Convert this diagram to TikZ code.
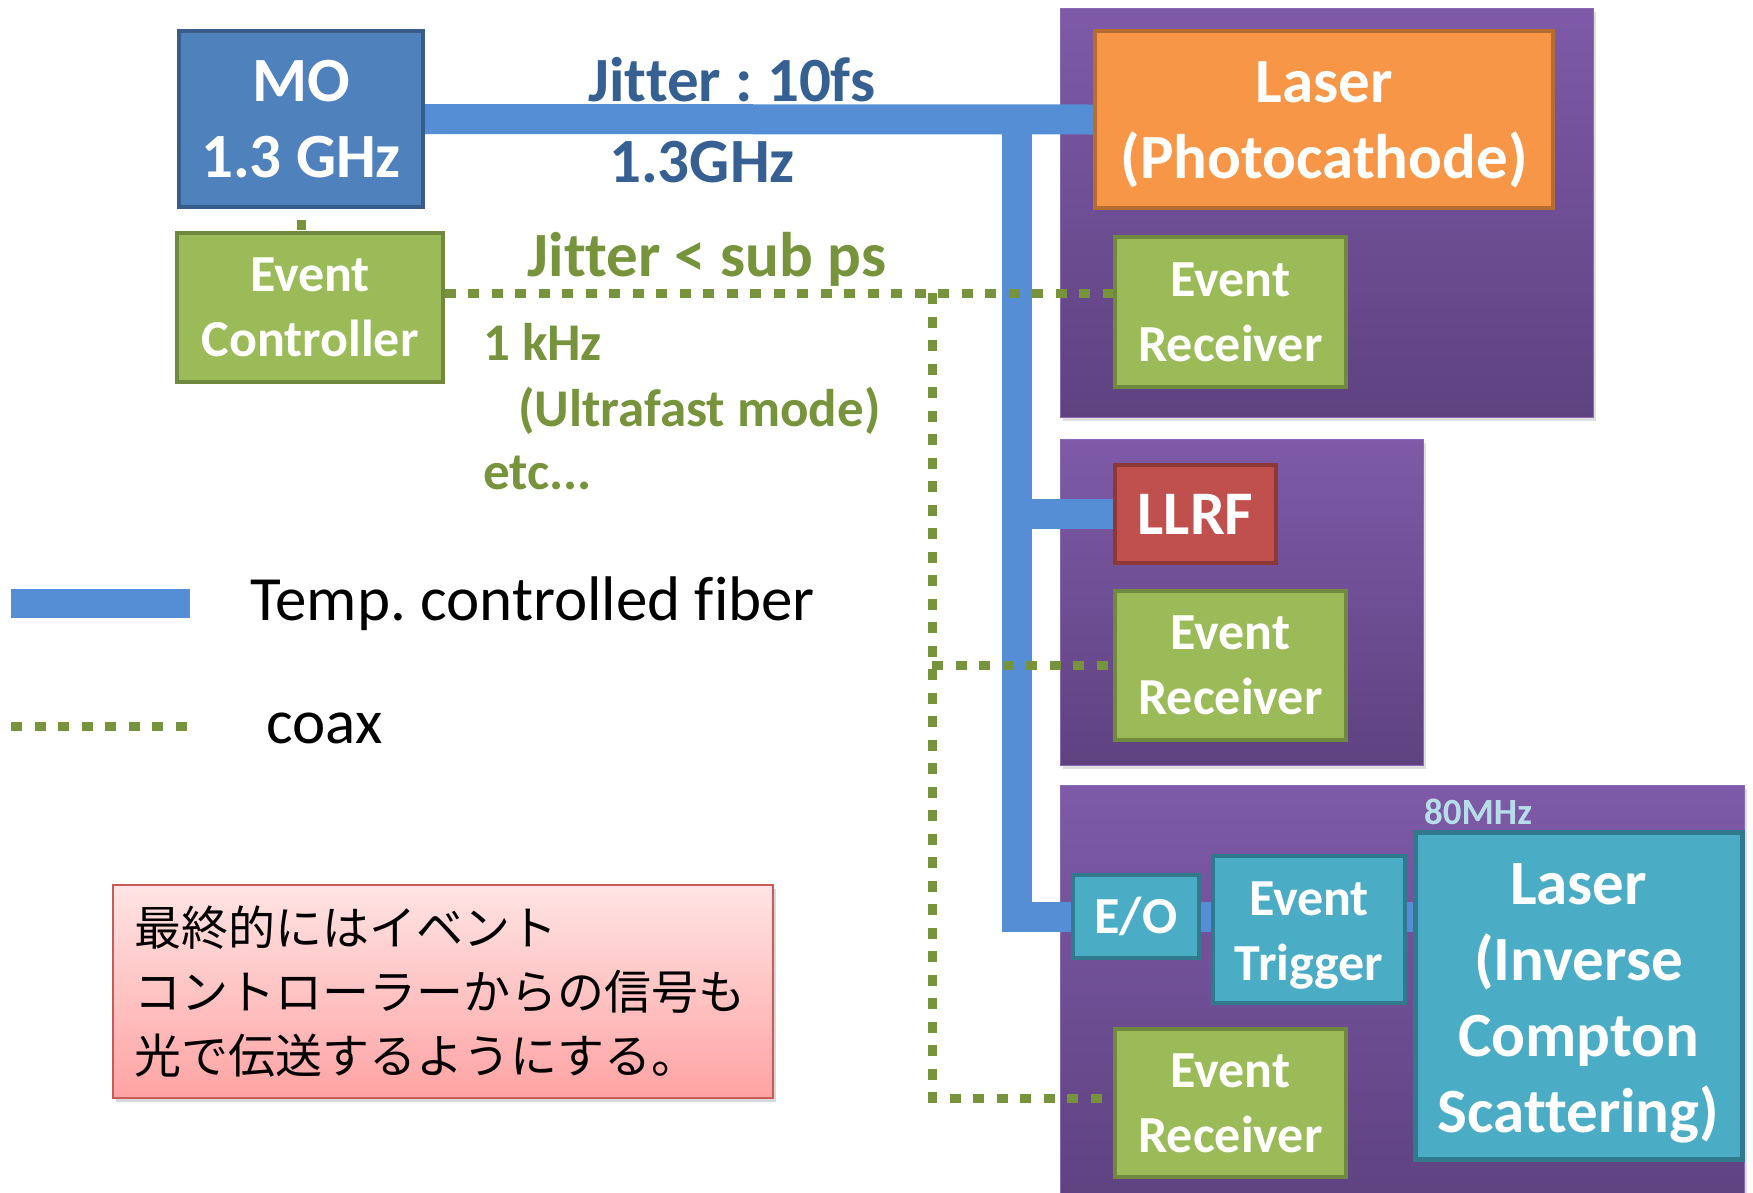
\documentclass[tikz,border=0pt]{standalone}
\usepackage{fontspec}
\setmainfont[Ligatures={NoCommon}]{Carlito}
\newfontfamily\cjkfont{Noto Sans CJK JP}
\usetikzlibrary{shadows}
\frenchspacing
\definecolor{moblue}{HTML}{4F81BD}
\definecolor{moborder}{HTML}{385D8A}
\definecolor{fiberblue}{HTML}{558ED5}
\definecolor{grfill}{HTML}{9BBB59}
\definecolor{grborder}{HTML}{71893F}
\definecolor{coaxgreen}{HTML}{77933C}
\definecolor{ptop}{HTML}{7E5AA8}
\definecolor{pbot}{HTML}{5E4280}
\definecolor{pborder}{HTML}{8A6AB4}
\definecolor{orfill}{HTML}{F79646}
\definecolor{orborder}{HTML}{B66D31}
\definecolor{rdfill}{HTML}{C0504D}
\definecolor{rdborder}{HTML}{8C3836}
\definecolor{aqfill}{HTML}{4BACC6}
\definecolor{aqborder}{HTML}{31798C}
\definecolor{textblue}{HTML}{376092}
\definecolor{lightaq}{HTML}{B7DEE8}
\definecolor{pinktop}{HTML}{FFE4E4}
\definecolor{pinkbot}{HTML}{FFA3A3}
\definecolor{pinkborder}{HTML}{C85A58}
\pgfdeclarelayer{panellayer}
\pgfdeclarelayer{linelayer}
\pgfsetlayers{panellayer,linelayer,main}
\tikzset{
  box/.style={draw, line width=3.5pt, inner sep=0pt, align=center, text=white,
    font=\fontsize{52}{65}\selectfont\bfseries},
  boxtext/.style={inner sep=0pt, align=center, text=white},
  bigtext/.style={font=\fontsize{63}{76}\selectfont\bfseries},
  midtext/.style={font=\fontsize{52}{65}\selectfont\bfseries},
  mobox/.style={box, bigtext, fill=moblue, draw=moborder},
  greenbox/.style={box, fill=grfill, draw=grborder},
  orbox/.style={box, bigtext, fill=orfill, draw=orborder},
  redbox/.style={box, font=\fontsize{62}{76}\selectfont\bfseries, fill=rdfill, draw=rdborder},
  aqbox/.style={box, fill=aqfill, draw=aqborder},
  panel/.style={draw=pborder, line width=1pt, inner sep=0pt, top color=ptop, bottom color=pbot,
    drop shadow={shadow xshift=3pt, shadow yshift=-4pt, opacity=0.25}},
  jpbox/.style={draw=pinkborder, line width=2pt, inner sep=0pt, top color=pinktop, bottom color=pinkbot,
    drop shadow={shadow xshift=3pt, shadow yshift=-4pt, opacity=0.3}},
  fiber/.style={draw=fiberblue, line width=30pt},
  coax/.style={draw=coaxgreen, line width=9pt, dash pattern=on 11pt off 12.5pt},
  bluelabel/.style={text=textblue, font=\fontsize{63}{76}\selectfont\bfseries, inner sep=0pt},
  greenlabel/.style={text=coaxgreen, font=\fontsize{53}{65}\selectfont\bfseries, inner sep=0pt},
  legendtext/.style={text=black, font=\fontsize{63}{76}\selectfont, inner sep=0pt}
}
\begin{document}
\begin{tikzpicture}[x=1pt,y=-1pt]
\useasboundingbox (0,0) rectangle (1753,1192);
\begin{pgfonlayer}{panellayer}
\fill[white] (0,0) rectangle (1753,1192);
\node[panel, minimum width=533, minimum height=409] (P1) at (1326.5,212.5) {};
\node[panel, minimum width=363, minimum height=326] (P2) at (1241.5,602) {};
\node[panel, minimum width=684, minimum height=415] (P3) at (1402,992.5) {};
\end{pgfonlayer}

% boxes
\node[mobox, minimum width=244, minimum height=176] (MO) at (301,119) {MO\\1.3 GHz};
\node[greenbox, minimum width=266, minimum height=149] (EC) at (310,307.5) {Event\\Controller};
\node[orbox, minimum width=458, minimum height=177] (LPC) at (1324,119.5) {};
\node[boxtext, bigtext] (LPCtext) at ([yshift=-5pt]LPC.center) {Laser\\(Photocathode)};
\node[greenbox, minimum width=231, minimum height=150] (ER1) at (1230.5,312) {Event\\Receiver};
\node[redbox, minimum width=161, minimum height=98] (LLRF) at (1195.5,514) {LLRF};
\node[greenbox, minimum width=231, minimum height=149] (ER2) at (1230.5,665.5) {Event\\Receiver};
\node[aqbox, minimum width=126, minimum height=83] (EO) at (1136,916.5) {E/O};
\node[aqbox, minimum width=192, minimum height=147] (ET) at (1309,929.5) {};
\node[boxtext, midtext] (ETtext) at ([yshift=-6pt]ET.center) {Event\\Trigger};
\node[aqbox, line width=5pt, minimum width=327, minimum height=327] (ICS) at (1578.5,995.5) {};
\node[boxtext, bigtext] (ICStext) at ([yshift=-8pt]ICS.center) {Laser\\(Inverse\\Compton\\Scattering)};
\node[greenbox, minimum width=231, minimum height=148] (ER3) at (1230.5,1103) {Event\\Receiver};
\node[text=lightaq, font=\fontsize{37}{44}\selectfont\bfseries, inner sep=0pt, anchor=base] (F80) at (1478,824) {80MHz};

% connectors
\coordinate (J) at (1017,120);
\coordinate (CV) at (932,293);
\begin{pgfonlayer}{linelayer}
\draw[fiber] (MO.east) -- (LPC.west);
\draw[fiber] (J) |- (EO.west);
\draw[fiber] (LLRF.west) -- (LLRF.west -| J);
\draw[fiber] (EO.east) -- (ICS.west |- EO.east);
\draw[coax] (EC.east |- CV) -- (ER1.west |- CV);
\draw[coax] (CV) |- ([yshift=5pt]ER3.west);
\draw[coax] (ER2.west -| CV) -- (ER2.west);
\draw[draw=coaxgreen, line width=9pt, shorten <=11pt, shorten >=1pt] (MO.south) -- (MO.south |- EC.north);
\end{pgfonlayer}

% labels
\node[bluelabel, anchor=base] (L1) at (732,101) {Jitter : 10fs};
\node[bluelabel, anchor=base] (L2) at (702,182) {1.3GHz};
\node[greenlabel, font=\fontsize{63}{70}\selectfont\bfseries, anchor=base] (L3) at (707,276) {Jitter < sub ps};
\node[greenlabel, anchor=base west] (L4) at (483,360) {1 kHz};
\node[greenlabel, anchor=base west] (L5) at (518,426) {(Ultrafast mode)};
\node[greenlabel, anchor=base west] (L6) at (483,489) {etc...};

% legend
\coordinate (LA1) at (11,603.5);
\coordinate (LA2) at (190,603.5);
\coordinate (LB1) at (11,726);
\coordinate (LB2) at (190,726);
\draw[fiber, line width=29pt] (LA1) -- (LA2);
\draw[coax] (LB1) -- (LB2);
\node[legendtext, anchor=base west] (T1) at (250,620) {Temp. controlled fiber};
\node[legendtext, anchor=base west] (T2) at (266,743) {coax};

% note
\node[jpbox, minimum width=660, minimum height=213, text width=618, align=left,
  font=\cjkfont\fontsize{47}{64}\selectfont] (JP) at (443,991.5)
  {最終的にはイベント\\コントローラーからの信号も\\光で伝送するようにする。};
\end{tikzpicture}
\end{document}
